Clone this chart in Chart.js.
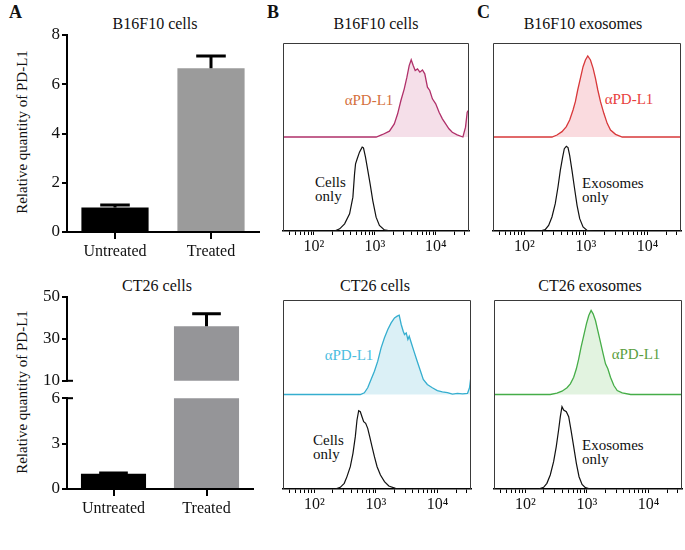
<!DOCTYPE html>
<html>
<head>
<meta charset="utf-8">
<script src="https://cdn.jsdelivr.net/npm/chart.js@4.4.1/dist/chart.umd.min.js"></script>
<style>
  html, body { margin: 0; padding: 0; background: #fff; }
  #fig { position: relative; width: 685px; height: 550px; overflow: hidden; font-family: 'Liberation Serif', serif; color: #111; }
  #fig canvas { position: absolute; }
  .t { position: absolute; white-space: nowrap; font-size: 16px; transform: translate(-50%, -50%); }
  .lbl { position: absolute; font-weight: bold; font-size: 18px; }
  .note { position: absolute; font-size: 15px; line-height: 14px; transform: translateY(-50%); white-space: nowrap; }
  .pd { position: absolute; font-size: 15px; transform: translate(-50%, -50%); white-space: nowrap; }
  .ytitle { position: absolute; font-size: 15px; white-space: nowrap; transform: translate(-50%, -50%) rotate(-90deg); }
</style>
</head>
<body>
<div id="fig">
  <div class="lbl" style="left:9px;top:2px">A</div>
  <div class="lbl" style="left:267px;top:2px">B</div>
  <div class="lbl" style="left:477px;top:2px">C</div>

  <div class="t" style="left:155px;top:24px">B16F10 cells</div>
  <div class="t" style="left:157px;top:286px">CT26 cells</div>
  <div class="t" style="left:376px;top:24px">B16F10 cells</div>
  <div class="t" style="left:583px;top:24px">B16F10 exosomes</div>
  <div class="t" style="left:375px;top:286px">CT26 cells</div>
  <div class="t" style="left:590px;top:286px">CT26 exosomes</div>

  <div class="ytitle" style="left:22px;top:132px">Relative quantity of PD-L1</div>
  <div class="ytitle" style="left:22px;top:392px">Relative quantity of PD-L1</div>

  <div class="pd" style="left:369px;top:100px;color:#d4703c">αPD-L1</div>
  <div class="pd" style="left:629px;top:99px;color:#e8403c">αPD-L1</div>
  <div class="pd" style="left:349px;top:355px;color:#4bbde0">αPD-L1</div>
  <div class="pd" style="left:636px;top:354px;color:#5a9e40">αPD-L1</div>

  <div class="note" style="left:315px;top:189px">Cells<br>only</div>
  <div class="note" style="left:582px;top:190px">Exosomes<br>only</div>
  <div class="note" style="left:313px;top:447px">Cells<br>only</div>
  <div class="note" style="left:582px;top:452px">Exosomes<br>only</div>
</div>
<script>
// ---- bar panels (A) ----
const barCategories = ['Untreated', 'Treated'];
const b16Quantity = [1.0, 6.65];
const b16Error = [0.1, 0.5];
const b16Ticks = [0, 2, 4, 6, 8];
const ct26Quantity = [1.0, 36];
const ct26Error = [0.05, 6];
const ct26UpperTicks = [10, 30, 50];
const ct26LowerTicks = [0, 3, 6];

// ---- flow histograms (B, C) ----
const fluorMin = 31, fluorMax = 35000;
const flowMajorTicks = [100, 1000, 10000];
const flowTickLabels = ['10²', '10³', '10⁴'];

const b16CellsPdl1X = [31, 1050, 1340, 1730, 2080, 2360, 2670, 3030, 3350, 3650, 3940, 4250, 4580, 5000, 5460, 6030, 6580, 7280, 7940, 8780, 9950, 11300, 12800, 14500, 16400, 18600, 22400, 27800, 30700, 32700, 35000];
const b16CellsPdl1Y = [0, 0, 2.7, 6.2, 14, 24.7, 38.8, 51.2, 63.6, 76, 82.1, 76, 70.7, 72.5, 69, 71.4, 67.2, 53, 49.5, 40.6, 35.3, 26.4, 19.3, 14, 8.7, 5.1, 2.3, 0, 10.5, 26.4, 29];
const b16CellsOnlyX = [31, 218, 264, 318, 384, 435, 463, 481, 512, 558, 618, 649, 700, 764, 834, 922, 1045, 1185, 1430, 1840, 35000];
const b16CellsOnlyY = [0, 0, 2.3, 7.6, 18.3, 36, 60.8, 71.5, 76.8, 83.9, 89.2, 88.5, 78.5, 64.4, 50.2, 32.4, 14.7, 5.9, 1.2, 0, 0];

const b16ExoPdl1X = [31, 281, 339, 409, 481, 545, 618, 674, 736, 813, 899, 982, 1072, 1185, 1309, 1430, 1560, 1725, 1955, 2215, 2510, 3030, 3890, 35000];
const b16ExoPdl1Y = [0, 0, 2.1, 5.7, 11, 18.1, 28.7, 37.6, 50, 62.4, 74.8, 81.9, 86.2, 81.9, 73, 62.4, 50, 37.6, 25.2, 14.5, 7.4, 2.8, 0, 0];
const b16ExoOnlyX = [31, 181, 218, 248, 281, 318, 352, 384, 419, 446, 481, 512, 545, 594, 649, 718, 793, 899, 1045, 1343, 35000];
const b16ExoOnlyY = [0, 0, 1.4, 6, 14.9, 29.1, 46.8, 64.5, 78.7, 87.6, 90.1, 88.7, 80.5, 64.5, 46.8, 27.3, 13.1, 4.3, 0.7, 0, 0];

const ct26CellsPdl1X = [31, 558, 649, 736, 834, 946, 1072, 1214, 1377, 1560, 1767, 2004, 2215, 2388, 2575, 2775, 2917, 3105, 3306, 3475, 3747, 4140, 4580, 5190, 5880, 6840, 8240, 9950, 12000, 14500, 17500, 21100, 25500, 30700, 33100, 35000];
const ct26CellsPdl1Y = [0, 0, 1.8, 7.1, 15.9, 24.7, 35.3, 49.4, 60, 68.8, 75.8, 81.1, 82.9, 83.9, 74.1, 67, 63.5, 65.2, 58.2, 61.7, 54.7, 45.9, 37, 26.5, 15.9, 10.6, 7.1, 4.2, 2.8, 2.1, 0.4, 1.1, 0.7, 1.1, 7.1, 19.4];
const ct26CellsOnlyX = [31, 218, 264, 306, 339, 384, 424, 463, 493, 525, 558, 594, 633, 682, 736, 793, 865, 946, 1045, 1185, 1377, 1620, 2080, 2670, 35000];
const ct26CellsOnlyY = [0, 0, 1.8, 6, 13.1, 23.6, 37.7, 55.4, 73, 82.9, 81.8, 76.5, 71.2, 69.5, 64.2, 55.4, 44.8, 34.2, 23.6, 14.8, 7.8, 3.2, 0.7, 0, 0];

const ct26ExoPdl1X = [31, 254, 326, 394, 475, 538, 610, 674, 736, 804, 888, 982, 1072, 1170, 1262, 1377, 1503, 1660, 1835, 2004, 2188, 2415, 2740, 3105, 3747, 5130, 35000];
const ct26ExoPdl1Y = [0, 0, 1.4, 3.5, 7.1, 11.3, 18.3, 27.2, 37.7, 50.1, 62.4, 74.8, 83.6, 88.9, 85.4, 78.3, 67.7, 55.4, 43, 32.4, 27.2, 18.3, 9.5, 4.2, 1.8, 0, 0];
const ct26ExoOnlyX = [31, 164, 198, 224, 254, 288, 318, 347, 370, 394, 419, 463, 506, 552, 610, 674, 745, 834, 946, 1140, 35000];
const ct26ExoOnlyY = [0, 0, 1.8, 6, 14.8, 28.9, 44.8, 62.4, 76.5, 87.1, 83.6, 81.8, 76.5, 62.4, 44.8, 27.2, 13, 4.9, 1.4, 0, 0];

// upper histogram is drawn offset above the lower one
const stackOffset = 100;

Chart.defaults.font.family = "'Liberation Serif', serif";
Chart.defaults.color = '#111';
Chart.defaults.animation = false;
Chart.defaults.plugins.legend.display = false;
Chart.defaults.plugins.tooltip.enabled = false;

function makeCanvas(left, top, w, h) {
  const c = document.createElement('canvas');
  c.width = w; c.height = h;
  c.style.left = left + 'px'; c.style.top = top + 'px';
  c.style.width = w + 'px'; c.style.height = h + 'px';
  document.getElementById('fig').appendChild(c);
  return c;
}

// error bar (upper half only, with cap)
const errorBars = {
  id: 'errorBars',
  afterDatasetsDraw(chart, args, opts) {
    const y = chart.scales.y, ctx = chart.ctx;
    const vals = chart.data.datasets[0].data;
    ctx.save();
    ctx.strokeStyle = '#000';
    ctx.lineWidth = 3;
    chart.getDatasetMeta(0).data.forEach((bar, i) => {
      const top = vals[i] + opts.err[i];
      if (vals[i] < y.min || top > y.max) return;
      const y0 = y.getPixelForValue(vals[i]), y1 = y.getPixelForValue(top);
      const half = bar.width * 0.22;
      ctx.beginPath();
      ctx.moveTo(bar.x, y0); ctx.lineTo(bar.x, y1);
      ctx.moveTo(bar.x - half, y1); ctx.lineTo(bar.x + half, y1);
      ctx.stroke();
    });
    ctx.restore();
  }
};

// short marks crossing the axis where it is broken
const breakMarks = {
  id: 'breakMarks',
  afterDraw(chart, args, opts) {
    if (opts.at == null) return;
    const y = chart.scales.y, ctx = chart.ctx;
    const py = y.getPixelForValue(opts.at), px = chart.chartArea.left;
    ctx.save();
    ctx.strokeStyle = '#000';
    ctx.lineWidth = 2;
    ctx.beginPath();
    ctx.moveTo(px, py); ctx.lineTo(px + 6, py);
    ctx.stroke();
    ctx.restore();
  }
};

function barChart(canvas, values, err, ticks, colors, o) {
  return new Chart(canvas, {
    type: 'bar',
    data: {
      labels: barCategories,
      datasets: [{ data: values, backgroundColor: colors, borderWidth: 0, barPercentage: 0.7, categoryPercentage: 1, clip: 0 }]
    },
    options: {
      responsive: false,
      layout: { padding: o.padding },
      scales: {
        x: {
          display: o.showX,
          offset: true,
          grid: { display: true, offset: false, drawOnChartArea: false, tickLength: 7, color: '#000', lineWidth: 2 },
          border: { color: '#000', width: 2 },
          ticks: { font: { size: 16 }, color: '#111', padding: 3, maxRotation: 0 },
          afterFit: s => { s.height = o.xHeight; }
        },
        y: {
          min: ticks[0], max: ticks[ticks.length - 1],
          afterBuildTicks: s => { s.ticks = ticks.map(v => ({ value: v })); },
          grid: { drawOnChartArea: false, tickLength: 5, color: '#000', lineWidth: 2 },
          border: { color: '#000', width: 2 },
          ticks: { font: { size: 17 }, color: '#111', padding: 2 },
          afterFit: s => { s.width = 67; }
        }
      },
      plugins: { errorBars: { err }, breakMarks: { at: o.breakAt } }
    },
    plugins: [errorBars, breakMarks]
  });
}

barChart(makeCanvas(0, 0, 262, 265), b16Quantity, b16Error, b16Ticks, ['#000000', '#9b9b9b'],
  { padding: { top: 35, right: 3 }, xHeight: 33, showX: true });
barChart(makeCanvas(0, 270, 256, 123), ct26Quantity, ct26Error, ct26UpperTicks, ['#000000', '#959598'],
  { padding: { top: 27, right: 3, bottom: 10 }, xHeight: 0, showX: false, breakAt: ct26UpperTicks[0] });
barChart(makeCanvas(0, 386, 256, 134), ct26Quantity, ct26Error, ct26LowerTicks, ['#000000', '#959598'],
  { padding: { top: 12, right: 3 }, xHeight: 31, showX: true, breakAt: ct26LowerTicks[ct26LowerTicks.length - 1] });

// box around histogram plot area
const frame = {
  id: 'frame',
  afterDraw(chart) {
    const { ctx, chartArea: a } = chart;
    ctx.save();
    ctx.strokeStyle = '#3a3a3a';
    ctx.lineWidth = 1;
    ctx.beginPath();
    ctx.moveTo(a.left + 0.5, a.bottom);
    ctx.lineTo(a.left + 0.5, a.top + 0.5);
    ctx.lineTo(a.right - 0.5, a.top + 0.5);
    ctx.lineTo(a.right - 0.5, a.bottom);
    ctx.stroke();
    ctx.restore();
  }
};

const flowTickValues = [];
for (let d = 10; d <= 10000; d *= 10)
  for (let k = 1; k <= 9; k++)
    if (d * k >= fluorMin && d * k <= fluorMax) flowTickValues.push(d * k);

function flowChart(canvas, upper, lower, o) {
  const pts = (xs, ys, off) => xs.map((x, i) => ({ x, y: ys[i] + off }));
  return new Chart(canvas, {
    type: 'line',
    data: {
      datasets: [
        { data: pts(upper.x, upper.y, stackOffset), borderColor: o.line, backgroundColor: o.fill, borderWidth: 1.3,
          pointRadius: 0, fill: { value: stackOffset }, tension: 0 },
        { data: pts(lower.x, lower.y, 0), borderColor: '#111', borderWidth: 1.2, pointRadius: 0, fill: false, tension: 0 }
      ]
    },
    options: {
      responsive: false,
      layout: { padding: o.padding },
      scales: {
        x: {
          type: 'logarithmic', min: fluorMin, max: fluorMax,
          afterBuildTicks: s => { s.ticks = flowTickValues.map(v => ({ value: v })); },
          ticks: {
            autoSkip: false, maxRotation: 0, font: { size: 16 }, color: '#111', padding: 2,
            callback: v => { const k = flowMajorTicks.indexOf(v); return k < 0 ? '' : flowTickLabels[k]; }
          },
          grid: { drawOnChartArea: false, tickLength: 4, color: '#000', lineWidth: 1 },
          border: { color: '#000', width: 1.5 },
          afterFit: s => { s.height = o.xHeight; }
        },
        y: { display: false, min: 0, max: 200 }
      }
    },
    plugins: [frame]
  });
}

flowChart(makeCanvas(270, 30, 205, 230),
  { x: b16CellsPdl1X, y: b16CellsPdl1Y }, { x: b16CellsOnlyX, y: b16CellsOnlyY },
  { line: '#b0306a', fill: 'rgba(220,140,175,0.28)', padding: { left: 13, top: 13, right: 6 }, xHeight: 29 });
flowChart(makeCanvas(480, 30, 205, 230),
  { x: b16ExoPdl1X, y: b16ExoPdl1Y }, { x: b16ExoOnlyX, y: b16ExoOnlyY },
  { line: '#d8383a', fill: 'rgba(240,150,160,0.34)', padding: { left: 13, top: 13, right: 4 }, xHeight: 29 });
flowChart(makeCanvas(270, 287, 205, 232),
  { x: ct26CellsPdl1X, y: ct26CellsPdl1Y }, { x: ct26CellsOnlyX, y: ct26CellsOnlyY },
  { line: '#35aecf', fill: 'rgba(150,210,230,0.34)', padding: { left: 13, top: 13, right: 4 }, xHeight: 30 });
flowChart(makeCanvas(480, 287, 205, 232),
  { x: ct26ExoPdl1X, y: ct26ExoPdl1Y }, { x: ct26ExoOnlyX, y: ct26ExoOnlyY },
  { line: '#46ad48', fill: 'rgba(170,220,165,0.34)', padding: { left: 14, top: 13, right: 3 }, xHeight: 30 });
</script>
</body>
</html>
